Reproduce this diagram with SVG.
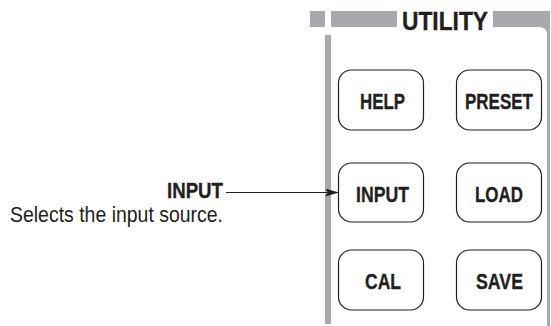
<svg xmlns="http://www.w3.org/2000/svg" width="551" height="326" viewBox="0 0 551 326">
<style>
.bar{fill:#a7a9ac}
.btn rect{fill:#fff;stroke:#231f20;stroke-width:1.2}
.lbl{font-family:"Liberation Sans",Arial,sans-serif;font-weight:bold;font-size:22.5px;fill:#231f20;stroke:#231f20;stroke-width:0.35}
.desc{font-family:"Liberation Sans",Arial,sans-serif;font-size:22px;fill:#231f20}
.conn{stroke:#231f20;stroke-width:1.2;fill:none}
</style>
<defs>
<marker id="ah" markerWidth="14" markerHeight="8" refX="14" refY="4" orient="auto" markerUnits="userSpaceOnUse">
<path d="M0,0 L14,4 L0,8 L3,4 Z" fill="#231f20"/>
</marker>
</defs>
<rect width="551" height="326" fill="#fff"/>
<g id="panel">
<rect class="bar" x="310" y="11" width="15" height="16"/>
<rect class="bar" x="331" y="11" width="66" height="16"/>
<path class="bar" d="M493,11 H550 V326 H547 V35 Q547,27 539,27 H493 Z"/>
<rect class="bar" x="325" y="35" width="6" height="289"/>
<text class="lbl" x="402" y="29.5" style="font-size:26px" textLength="86" lengthAdjust="spacingAndGlyphs">UTILITY</text>
</g>
<g id="help" class="btn"><rect x="338.5" y="70" width="85" height="60" rx="13"/><text class="lbl" x="360" y="109" textLength="45" lengthAdjust="spacingAndGlyphs">HELP</text></g>
<g id="preset" class="btn"><rect x="456.5" y="70" width="85" height="60" rx="13"/><text class="lbl" x="465" y="109" textLength="68" lengthAdjust="spacingAndGlyphs">PRESET</text></g>
<g id="input" class="btn"><rect x="338.5" y="163" width="85" height="59" rx="13"/><text class="lbl" x="356" y="201.5" textLength="53" lengthAdjust="spacingAndGlyphs">INPUT</text></g>
<g id="load" class="btn"><rect x="456.5" y="163" width="85" height="59" rx="13"/><text class="lbl" x="475" y="201.5" textLength="48" lengthAdjust="spacingAndGlyphs">LOAD</text></g>
<g id="cal" class="btn"><rect x="338.5" y="250" width="85" height="60" rx="13"/><text class="lbl" x="365" y="289" textLength="36" lengthAdjust="spacingAndGlyphs">CAL</text></g>
<g id="save" class="btn"><rect x="456.5" y="250" width="85" height="60" rx="13"/><text class="lbl" x="476" y="289" textLength="47" lengthAdjust="spacingAndGlyphs">SAVE</text></g>
<g id="input-label">
<text class="lbl" x="167" y="197.5" textLength="56" lengthAdjust="spacingAndGlyphs">INPUT</text>
<text class="desc" x="10" y="221.5" textLength="213" lengthAdjust="spacingAndGlyphs">Selects the input source.</text>
</g>
<g id="connectors">
<line class="conn" x1="226" y1="192.5" x2="339" y2="192.5" marker-end="url(#ah)"/>
</g>
</svg>
